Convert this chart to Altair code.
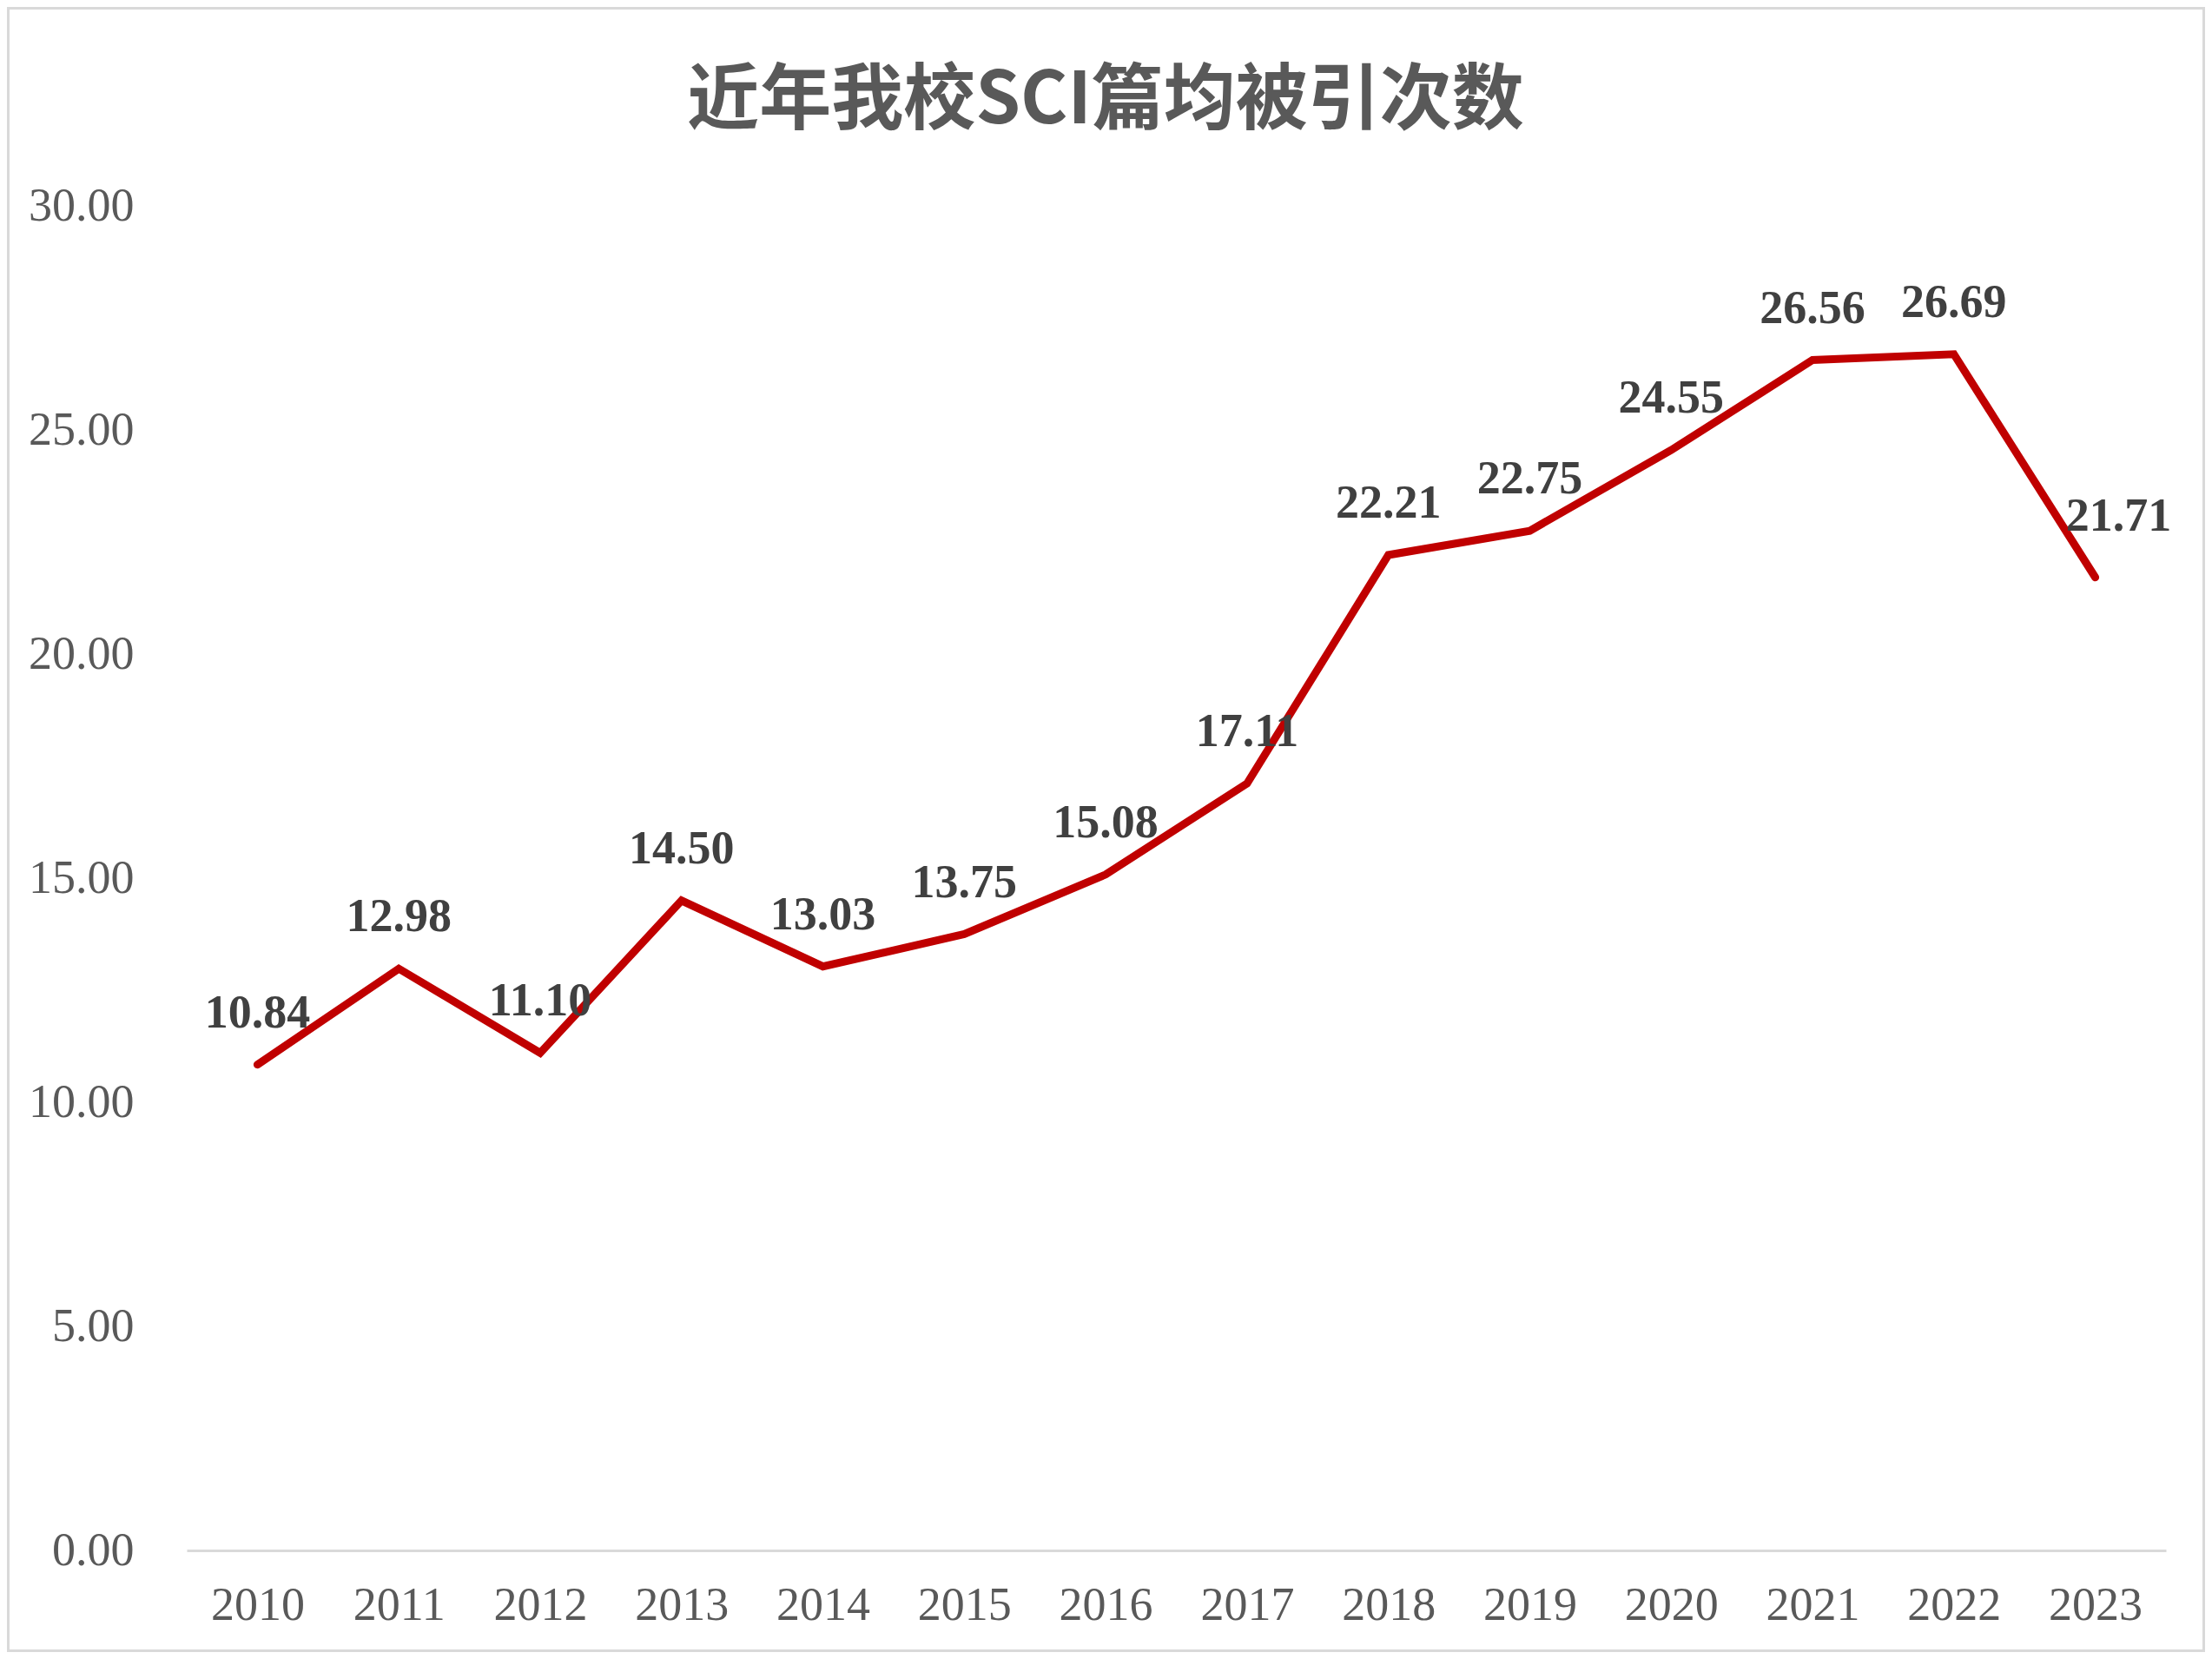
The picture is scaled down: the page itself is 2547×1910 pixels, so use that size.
import altair as alt
import pandas as pd

years = ["2010", "2011", "2012", "2013", "2014", "2015", "2016",
         "2017", "2018", "2019", "2020", "2021", "2022", "2023"]
values = [10.84, 12.98, 11.10, 14.50, 13.03, 13.75, 15.08,
          17.11, 22.21, 22.75, 24.55, 26.56, 26.69, 21.71]
title_text = "近年我校SCI篇均被引次数"

df = pd.DataFrame({"year": years, "value": values})

W, H = 2279, 1548
PAD_L, PAD_T, PAD_R, PAD_B = 207, 229, 45, 117

x_enc = alt.X("year:N", sort=years, title=None,
              scale=alt.Scale(paddingInner=0, paddingOuter=0.5),
              axis=alt.Axis(labelAngle=0, labelFont="Liberation Serif", labelFontSize=54,
                            labelColor="#595959", labelPadding=36, ticks=False,
                            domainColor="#d9d9d9", domainWidth=3, grid=False))
y_enc = alt.Y("value:Q", title=None,
              scale=alt.Scale(domain=[0, 30], nice=False, zero=True),
              axis=alt.Axis(values=[0, 5, 10, 15, 20, 25, 30], format=".2f",
                            labelFont="Liberation Serif", labelFontSize=54,
                            labelColor="#595959", labelPadding=61, ticks=False,
                            domain=False, grid=False))

line = alt.Chart(df).mark_line(color="#C00000", strokeWidth=9,
                               strokeCap="round", strokeJoin="miter").encode(x=x_enc, y=y_enc)

label_style = dict(font="Liberation Serif", fontSize=54, fontWeight="bold",
                   color="#404040", baseline="alphabetic", align="center")

labels = alt.Chart(df).transform_filter(alt.datum.year != "2023").mark_text(
    dy=-43, **label_style).encode(
    x=alt.X("year:N", sort=years), y="value:Q",
    text=alt.Text("value:Q", format=".2f"))

last_label = alt.Chart(df).transform_filter(alt.datum.year == "2023").mark_text(
    dx=27, dy=-54, **label_style).encode(
    x=alt.X("year:N", sort=years), y="value:Q",
    text=alt.Text("value:Q", format=".2f"))

title = alt.Chart(alt.Data(values=[{"t": title_text}])).mark_text(
    font="Noto Sans CJK SC", fontSize=83, fontWeight="bold", color="#595959",
    baseline="alphabetic", align="center").encode(
    x=alt.value(1273 - 215), y=alt.value(142 - 237), text="t:N")

border = alt.Chart(alt.Data(values=[{}])).mark_rect(
    fill=None, stroke="#d9d9d9", strokeWidth=3).encode(
    x=alt.value(-PAD_L + 1.5), x2=alt.value(W + PAD_R - 1.5),
    y=alt.value(-PAD_T + 1.5), y2=alt.value(H + PAD_B - 1.5))

chart = alt.layer(border, line, labels, last_label, title).properties(
    width=W, height=H,
    padding={"left": PAD_L, "top": PAD_T, "right": PAD_R, "bottom": PAD_B},
    autosize=alt.AutoSizeParams(type="none"),
    background="white"
).configure_view(stroke=None)

chart.save("out.html", embed_options={"renderer": "svg", "actions": False})
